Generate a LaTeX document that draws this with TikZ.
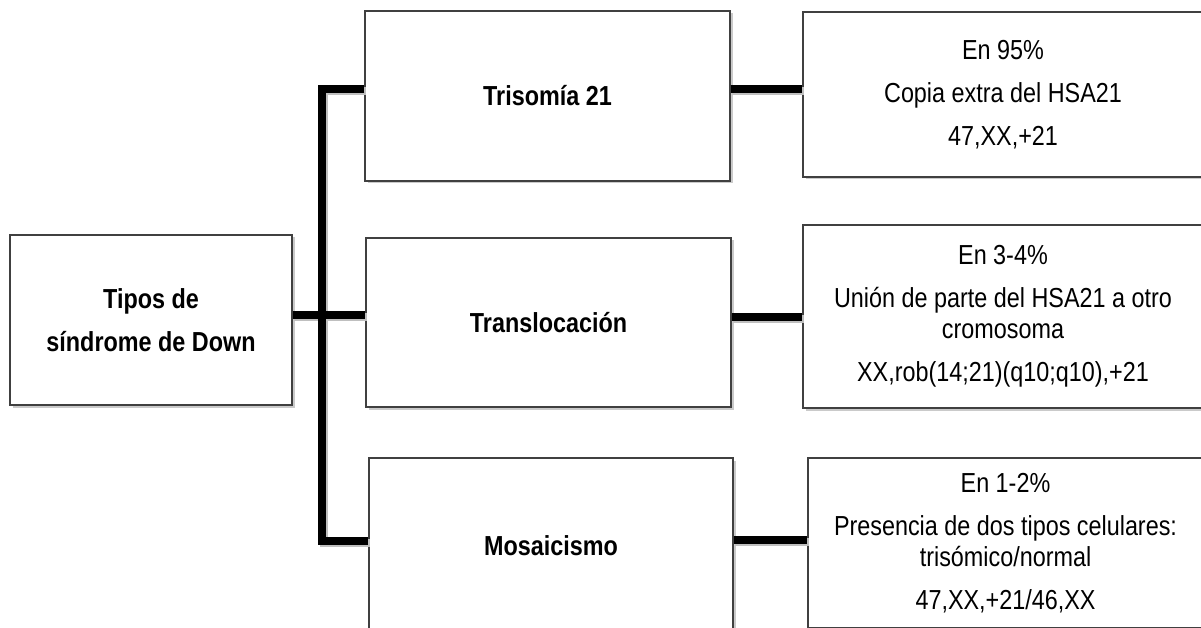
\documentclass[tikz,border=0pt]{standalone}
\usepackage{fontspec}
\setmainfont{Liberation Sans}[FakeStretch=0.85]
\usetikzlibrary{shadows,calc}

\begin{document}
\begin{tikzpicture}[x=1pt,y=-1pt,
  box/.style={draw=black!75, line width=1.3pt, fill=white, inner sep=4pt,
    align=center, font=\fontsize{27.5}{31}\selectfont,
    drop shadow={shadow xshift=2.5pt, shadow yshift=-2.5pt, opacity=0.35, fill=black!60}},
  head/.style={box, font=\fontsize{27.5}{31}\selectfont\bfseries},
  conn/.style={line width=7.5pt, black, line join=miter},
  connshadow/.style={line width=7.5pt, black!25, line join=miter, transform canvas={shift={(1.8pt,-1.8pt)}}}
]
\useasboundingbox (0,0) rectangle (1201,628);
\clip (0,0) rectangle (1201,628);

% category and description boxes
\node[head, minimum width=282pt, minimum height=170pt] (root) at (151,320)
  {Tipos de\\[12pt]síndrome de Down};
\node[head, minimum width=365pt, minimum height=170pt] (tri) at (547.5,96) {Trisomía 21};
\node[head, minimum width=365pt, minimum height=169pt] (tra) at (548.5,322.5) {Translocación};
\node[head, minimum width=364pt, minimum height=176pt] (mos) at (551,546) {Mosaicismo};

\node[box, minimum width=400pt, minimum height=165pt] (r1) at (1003,94.5)
  {En 95\%\\[12pt]Copia extra del HSA21\\[12pt]47,XX,+21};
\node[box, minimum width=400pt, minimum height=183pt] (r2) at (1003,316.5)
  {En 3-4\%\\[12pt]Unión de parte del HSA21 a otro\\cromosoma\\[12pt]XX,rob(14;21)(q10;q10),+21};
\node[box, minimum width=395pt, minimum height=170pt] (r3) at (1005.5,543)
  {En 1-2\%\\[12pt]Presencia de dos tipos celulares:\\trisómico/normal\\[12pt]47,XX,+21/46,XX};

% junction points of the tree
\coordinate (jt) at (322,89);
\coordinate (jm) at (322,315);
\coordinate (jb) at (322,541);
\coordinate (rt) at (0,89);
\coordinate (rm) at (0,317);
\coordinate (rb) at (0,540);

% connector shadows
\begin{scope}[connshadow]
  \draw (tri.west |- jt) -- (jt) -- (jb) -- (mos.west |- jb);
  \draw (root.east |- jm) -- (tra.west |- jm);
  \draw (tri.east |- rt) -- (r1.west |- rt);
  \draw (tra.east |- rm) -- (r2.west |- rm);
  \draw (mos.east |- rb) -- (r3.west |- rb);
\end{scope}

% connectors
\draw[conn] (tri.west |- jt) -- (jt) -- (jb) -- (mos.west |- jb);
\draw[conn] (root.east |- jm) -- (tra.west |- jm);
\draw[conn] (tri.east |- rt) -- (r1.west |- rt);
\draw[conn] (tra.east |- rm) -- (r2.west |- rm);
\draw[conn] (mos.east |- rb) -- (r3.west |- rb);
\end{tikzpicture}
\end{document}
